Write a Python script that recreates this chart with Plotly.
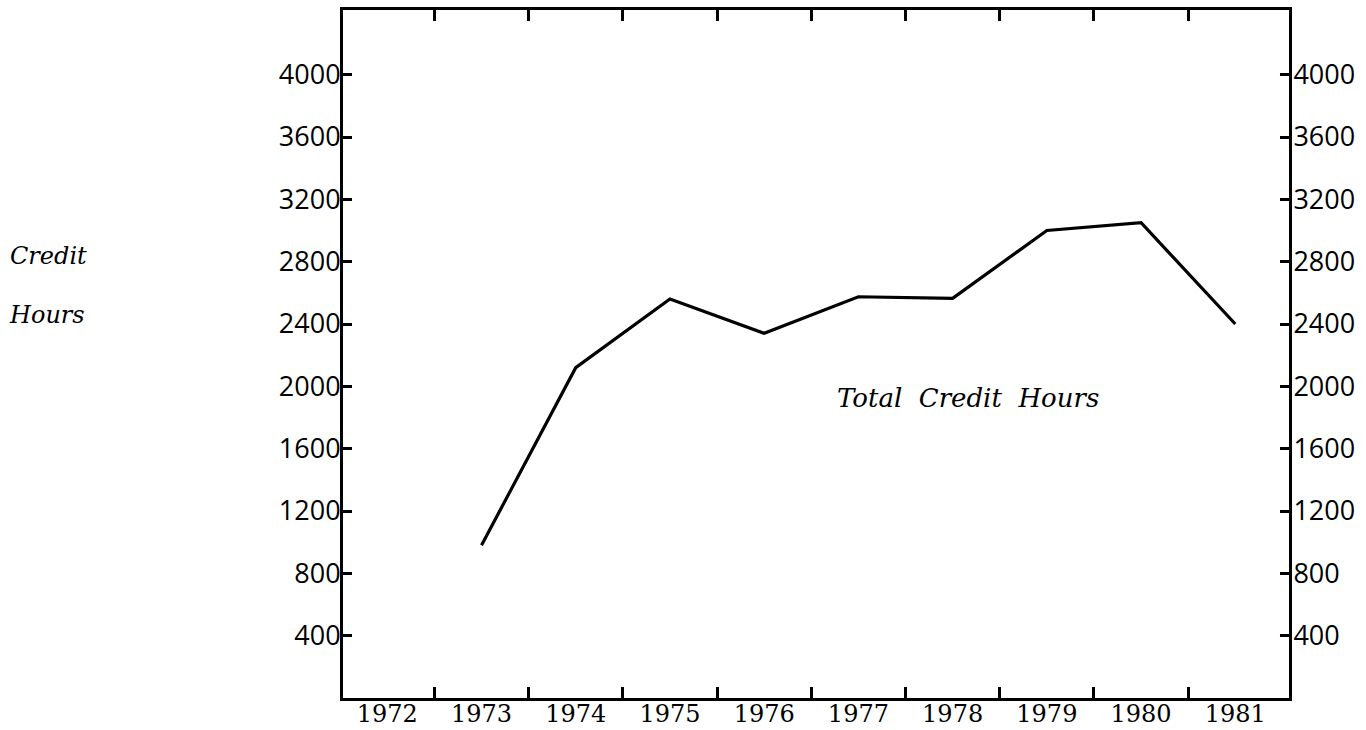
import plotly.graph_objects as go

# Total credit hours by year
years = [1973, 1974, 1975, 1976, 1977, 1978, 1979, 1980, 1981]
credit_hours = [980, 2120, 2560, 2340, 2575, 2565, 3000, 3050, 2400]

year_labels = [1972, 1973, 1974, 1975, 1976, 1977, 1978, 1979, 1980, 1981]
year_bounds = [1972.5, 1973.5, 1974.5, 1975.5, 1976.5, 1977.5, 1978.5, 1979.5, 1980.5]
hour_ticks = [400, 800, 1200, 1600, 2000, 2400, 2800, 3200, 3600, 4000]

x_range = [1971.53, 1981.57]
y_range = [0, 4415]

W, H = 1366, 730
ML, MR, MT, MB = 343, 77, 10, 32

sans = "Open Sans"
serif = "DejaVu Serif"
italic_serif = "DejaVu Serif"

fig = go.Figure()
fig.add_trace(go.Scatter(
    x=years, y=credit_hours, mode="lines",
    line=dict(color="black", width=3.2),
    xaxis="x", yaxis="y", showlegend=False, hoverinfo="skip",
))
# invisible trace so the overlay axes are drawn
fig.add_trace(go.Scatter(
    x=[years[0]], y=[credit_hours[0]], mode="markers",
    marker=dict(opacity=0), xaxis="x2", yaxis="y2",
    showlegend=False, hoverinfo="skip",
))

fig.update_layout(
    width=W, height=H,
    margin=dict(l=ML, r=MR, t=MT, b=MB, autoexpand=False),
    paper_bgcolor="white", plot_bgcolor="white",
    xaxis=dict(
        range=x_range, tickmode="array", tickvals=year_labels,
        ticktext=[str(y) for y in year_labels], ticks="",
        showline=True, linecolor="black", linewidth=3, mirror=True,
        showgrid=False, zeroline=False, automargin=False,
        ticklabelstandoff=-8,
        tickfont=dict(family=serif, size=24, color="black"),
    ),
    xaxis2=dict(
        range=x_range, overlaying="x", side="bottom", anchor="y2",
        tickmode="array", tickvals=year_bounds, ticks="inside",
        ticklen=11, tickwidth=2.5, tickcolor="black", mirror="ticks",
        showticklabels=False, showline=False, showgrid=False, zeroline=False,
        automargin=False,
    ),
    yaxis=dict(
        range=y_range, tickmode="array", tickvals=hour_ticks,
        ticks="inside", ticklen=9, tickwidth=2.5, tickcolor="black",
        showline=True, linecolor="black", linewidth=3,
        showgrid=False, zeroline=False, ticklabelstandoff=-6, automargin=False,
        tickfont=dict(family=sans, size=27, color="black"),
    ),
    yaxis2=dict(
        range=y_range, overlaying="y", side="right", anchor="x2",
        tickmode="array", tickvals=hour_ticks,
        ticks="inside", ticklen=9, tickwidth=2.5, tickcolor="black",
        showline=True, linecolor="black", linewidth=3,
        showgrid=False, zeroline=False, ticklabelstandoff=-4, automargin=False,
        tickfont=dict(family=sans, size=27, color="black"),
    ),
)

fig.add_annotation(
    x=1978.16, y=1925, xref="x", yref="y", text="<i>Total  Credit  Hours</i>",
    showarrow=False, font=dict(family=italic_serif, size=26, color="black"),
)

# y-axis caption, positioned in page pixels converted to paper coordinates
pw, ph = W - ML - MR, H - MT - MB
for txt, px, py in [("<i>Credit</i>", 48, 256), ("<i>Hours</i>", 47, 315)]:
    fig.add_annotation(
        x=(px - ML) / pw, y=(H - MB - py) / ph, xref="paper", yref="paper",
        xanchor="center", yanchor="middle", text=txt, showarrow=False,
        font=dict(family=italic_serif, size=24, color="black"),
    )

fig.write_html("out.html")
